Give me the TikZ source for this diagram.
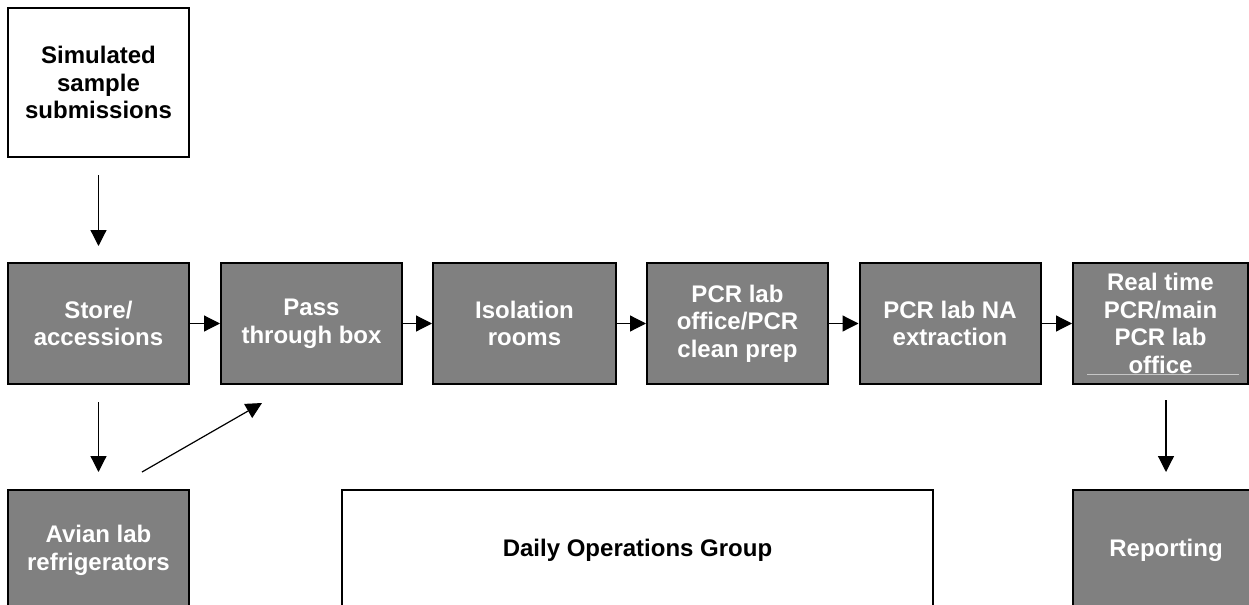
\documentclass[tikz,border=0pt]{standalone}
\usepackage{fontspec}
\setmainfont{Liberation Sans}
\usetikzlibrary{arrows.meta}

\begin{document}
\begin{tikzpicture}[x=0.5pt, y=-0.5pt,
	every node/.style={font=\bfseries\fontsize{12}{13.8}\selectfont, align=center, inner sep=0pt, line width=1pt},
	room/.style={draw=black, fill=gray, text=white, minimum width=90.5pt, minimum height=60.5pt},
	plain/.style={draw=black, fill=white, text=black},
	flow/.style={-{Triangle[length=8pt, width=8pt]}, line width=0.6pt}]
	\clip (0,0) rectangle (1249,605);
	\node[plain, minimum width=90.5pt, minimum height=74.5pt] (sim) at (98.5,82.5) {Simulated\\sample\\submissions};
	% main row of rooms
	\node[room] (store) at (98.5,323.5) {Store/\\accessions};
	\node[room] (pass) at (311.5,323.5) {Pass\\through box};
	\node[room, minimum width=91.5pt] (iso) at (524.5,323.5) {Isolation\\rooms};
	\node[room] (prep) at (737.5,323.5) {PCR lab\\office/PCR\\clean prep};
	\node[room] (extract) at (950,323.5) {PCR lab NA\\extraction};
	\node[room, minimum width=87.5pt] (real) at (1160.5,323.5) {Real time\\PCR/main\\PCR lab\\office};
	\draw[gray!45, line width=0.5pt] (1087,374) -- (1239,374);
	% bottom row
	\node[room] (avian) at (98.5,550.5) {Avian lab\\refrigerators};
	\node[plain, minimum width=295.5pt, minimum height=60.5pt] (daily) at (637.5,550.5) {Daily Operations Group};
	\node[room, minimum width=93pt] (report) at (1166,550.5) {Reporting};
	% connectors
	\draw[flow, shorten <=8.5pt, shorten >=8pt] (sim) -- (store);
	\foreach \a/\b in {store/pass, pass/iso, iso/prep, prep/extract, extract/real} {\draw[flow] (\a) -- (\b);}
	\draw[flow, shorten <=8.5pt, shorten >=8.5pt] (store) -- (avian);
	\draw[flow] ([xshift=21.75pt, yshift=8.5pt]avian.north) -- ([xshift=-24.75pt, yshift=-9pt]pass.south);
	\draw[flow, shorten <=7.5pt, shorten >=8.5pt] (report.north |- real.south) -- (report.north);
\end{tikzpicture}
\end{document}
